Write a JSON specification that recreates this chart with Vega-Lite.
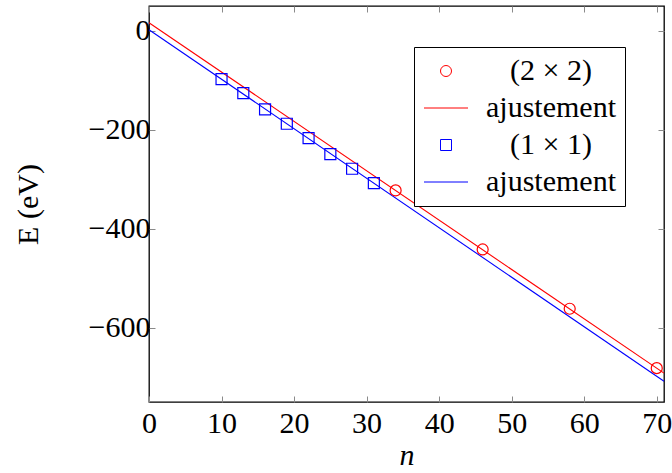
{
  "$schema": "https://vega.github.io/schema/vega-lite/v6.json",
  "width": 515,
  "height": 396,
  "autosize": {"type": "none"},
  "padding": {"left": 149, "top": 6, "right": 8, "bottom": 71},
  "background": "white",
  "config": {
    "font": "Liberation Serif",
    "view": {"stroke": "black", "strokeWidth": 1.3},
    "axis": {
      "grid": false,
      "domain": false,
      "labelFlush": false,
      "labelFont": "Liberation Serif",
      "labelFontSize": 30,
      "labelColor": "black",
      "tickColor": "#8a8a8a",
      "tickSize": -6,
      "tickWidth": 1,
      "titleFont": "Liberation Serif",
      "titleFontSize": 30,
      "titleFontWeight": "normal",
      "titleColor": "black"
    }
  },
  "datasets": {
    "fits": [
      {"series": "fit22", "n": 0, "E": 16.2},
      {"series": "fit22", "n": 71, "E": -691.7},
      {"series": "fit11", "n": 0, "E": 2},
      {"series": "fit11", "n": 71, "E": -708}
    ],
    "points": [
      {"series": "c22", "n": 34, "E": -322.6},
      {"series": "c22", "n": 46, "E": -441.8},
      {"series": "c22", "n": 58, "E": -561.6},
      {"series": "c22", "n": 70, "E": -681.6},
      {"series": "c11", "n": 10, "E": -97.8},
      {"series": "c11", "n": 13, "E": -126},
      {"series": "c11", "n": 16, "E": -159},
      {"series": "c11", "n": 19, "E": -187.9},
      {"series": "c11", "n": 22, "E": -217},
      {"series": "c11", "n": 25, "E": -249.3},
      {"series": "c11", "n": 28, "E": -278.8},
      {"series": "c11", "n": 31, "E": -307.9}
    ]
  },
  "layer": [
    {
      "data": {"name": "fits"},
      "mark": {"type": "line", "strokeWidth": 1.1},
      "encoding": {
        "x": {
          "field": "n", "type": "quantitative",
          "scale": {"domain": [0, 71], "nice": false, "zero": false},
          "axis": {"orient": "bottom", "values": [0, 10, 20, 30, 40, 50, 60, 70], "title": "n", "titleFontStyle": "italic", "labelPadding": 12, "titlePadding": 2}
        },
        "y": {
          "field": "E", "type": "quantitative",
          "scale": {"domain": [-750, 50], "nice": false, "zero": false},
          "axis": {"orient": "left", "values": [-600, -400, -200, 0], "title": "E (eV)", "labelPadding": 5, "titlePadding": 45}
        },
        "color": {
          "field": "series", "type": "nominal",
          "scale": {"domain": ["c22", "fit22", "c11", "fit11"], "range": ["#ff0000", "#ff0000", "#0000ff", "#0000ff"]},
          "legend": {
            "orient": "none", "legendX": 265, "legendY": 41,
            "title": null,
            "labelExpr": "datum.value == 'c22' ? '(2 × 2)' : datum.value == 'c11' ? '(1 × 1)' : 'ajustement'",
            "labelFont": "Liberation Serif", "labelFontSize": 30, "labelColor": "black",
            "labelAlign": "center", "labelOffset": 90, "symbolOffset": 8,
            "symbolSize": 121, "symbolStrokeWidth": 1,
            "strokeColor": "black", "fillColor": "white", "padding": 9, "rowPadding": 7, "cornerRadius": 0
          }
        }
      }
    },
    {
      "data": {"name": "points"},
      "mark": {"type": "point", "filled": false, "size": 121, "strokeWidth": 1.2, "opacity": 1},
      "encoding": {
        "x": {
          "field": "n", "type": "quantitative",
          "axis": {"orient": "top", "values": [0, 10, 20, 30, 40, 50, 60, 70], "labels": false, "title": null}
        },
        "y": {
          "field": "E", "type": "quantitative",
          "axis": {"orient": "right", "values": [-600, -400, -200, 0], "labels": false, "title": null}
        },
        "color": {"field": "series", "type": "nominal"},
        "shape": {
          "field": "series", "type": "nominal",
          "scale": {"domain": ["c22", "fit22", "c11", "fit11"], "range": ["circle", "M-4,0H4", "square", "M-4,0H4"]},
          "legend": {
            "orient": "none", "legendX": 265, "legendY": 41,
            "title": null,
            "labelExpr": "datum.value == 'c22' ? '(2 × 2)' : datum.value == 'c11' ? '(1 × 1)' : 'ajustement'",
            "labelFont": "Liberation Serif", "labelFontSize": 30, "labelColor": "black",
            "labelAlign": "center", "labelOffset": 90, "symbolOffset": 8,
            "symbolSize": 121, "symbolStrokeWidth": 1,
            "strokeColor": "black", "fillColor": "white", "padding": 9, "rowPadding": 7, "cornerRadius": 0
          }
        }
      }
    }
  ],
  "resolve": {"axis": {"x": "independent", "y": "independent"}}
}
